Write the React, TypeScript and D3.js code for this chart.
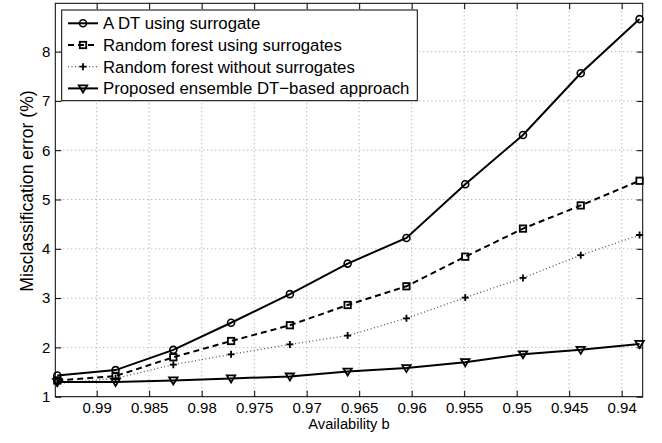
import React, { useEffect, useRef } from 'react';
import * as d3 from 'd3';

// availability values (x)
const availability = [0.99375, 0.9882, 0.9827, 0.9772, 0.9716, 0.9661, 0.9605, 0.9549, 0.9494, 0.9439, 0.9383];

const dtSurrogate = [1.43, 1.54, 1.95, 2.5, 3.08, 3.7, 4.22, 5.31, 6.31, 7.56, 8.66];
const rfSurrogates = [1.33, 1.42, 1.8, 2.13, 2.45, 2.86, 3.24, 3.84, 4.41, 4.88, 5.38];
const rfNoSurrogates = [1.27, 1.37, 1.65, 1.86, 2.06, 2.24, 2.59, 3.01, 3.41, 3.87, 4.28];
const ensembleDT = [1.3, 1.3, 1.33, 1.37, 1.41, 1.51, 1.58, 1.7, 1.86, 1.95, 2.07];

const seriesNames = [
  'A DT using surrogate',
  'Random forest using surrogates',
  'Random forest without surrogates',
  'Proposed ensemble DT\u2212based approach',
];

const xTicks = [0.99, 0.985, 0.98, 0.975, 0.97, 0.965, 0.96, 0.955, 0.95, 0.945, 0.94];
const yTicks = [1, 2, 3, 4, 5, 6, 7, 8];

const FONT = 'Liberation Sans, Arial, Helvetica, sans-serif';

const App = () => {
  const svgRef = useRef(null);

  useEffect(() => {
    const width = 662, height = 443;
    const margin = { top: 3.3, right: 19.3, bottom: 46.3, left: 55.3 };
    const w = width - margin.left - margin.right;
    const h = height - margin.top - margin.bottom;

    const svg = d3.select(svgRef.current);
    svg.selectAll('*').remove();

    const g = svg.append('g').attr('transform', `translate(${margin.left},${margin.top})`);

    const x = d3.scaleLinear().domain([0.99394, 0.938]).range([0, w]);
    const y = d3.scaleLinear().domain([1, 8.98]).range([h, 0]);

    // grid
    g.selectAll('.gx').data(xTicks).enter().append('line')
      .attr('x1', d => x(d)).attr('x2', d => x(d))
      .attr('y1', 0).attr('y2', h)
      .attr('stroke', '#888').attr('stroke-width', 0.8).attr('stroke-dasharray', '1,3');
    g.selectAll('.gy').data(yTicks).enter().append('line')
      .attr('x1', 0).attr('x2', w)
      .attr('y1', d => y(d)).attr('y2', d => y(d))
      .attr('stroke', '#888').attr('stroke-width', 0.8).attr('stroke-dasharray', '1,3');

    // axes
    const xAxis = g.append('g').attr('transform', `translate(0,${h})`)
      .call(d3.axisBottom(x).tickValues(xTicks).tickSize(-6).tickPadding(6).tickFormat(d3.format('')));
    const xTop = g.append('g').call(d3.axisTop(x).tickValues(xTicks).tickSize(-6).tickFormat(() => ''));
    const yAxis = g.append('g')
      .call(d3.axisLeft(y).tickValues(yTicks).tickSize(-6).tickPadding(5).tickFormat(d3.format('d')));
    const yRight = g.append('g').attr('transform', `translate(${w},0)`)
      .call(d3.axisRight(y).tickValues(yTicks).tickSize(-6).tickFormat(() => ''));

    [xAxis, xTop, yAxis, yRight].forEach(a => {
      a.select('.domain').remove();
      a.selectAll('.tick line').attr('stroke', '#000').attr('stroke-width', 1);
      a.selectAll('text')
        .style('font-family', FONT)
        .style('font-size', '15px')
        .style('fill', '#000');
    });

    g.append('rect').attr('x', 0).attr('y', 0).attr('width', w).attr('height', h)
      .attr('fill', 'none').attr('stroke', '#000').attr('stroke-width', 1);

    // labels
    svg.append('text')
      .attr('x', margin.left + w / 2).attr('y', 429)
      .attr('text-anchor', 'middle')
      .style('font-family', FONT).style('font-size', '14.7px')
      .text('Availability b');
    svg.append('text')
      .attr('transform', 'translate(33,191) rotate(-90)')
      .attr('text-anchor', 'middle')
      .style('font-family', FONT).style('font-size', '17.6px')
      .text('Misclassification error (%)');

    const styles = [
      { values: dtSurrogate, dash: null, color: '#000', width: 2, marker: 'circle' },
      { values: rfSurrogates, dash: '6,4', color: '#000', width: 2, marker: 'square' },
      { values: rfNoSurrogates, dash: '1,2.5', color: '#555', width: 1.3, marker: 'plus' },
      { values: ensembleDT, dash: null, color: '#000', width: 2, marker: 'triangle' },
    ];

    const drawMarker = (sel, type, cx, cy) => {
      if (type === 'circle') {
        sel.append('circle').attr('cx', cx).attr('cy', cy).attr('r', 3.5)
          .attr('fill', 'none').attr('stroke', '#000').attr('stroke-width', 1.6);
      } else if (type === 'square') {
        sel.append('rect').attr('x', cx - 3.2).attr('y', cy - 3.2).attr('width', 6.4).attr('height', 6.4)
          .attr('fill', 'none').attr('stroke', '#000').attr('stroke-width', 1.8);
      } else if (type === 'plus') {
        sel.append('path').attr('d', `M${cx - 3.5},${cy}H${cx + 3.5}M${cx},${cy - 3.5}V${cy + 3.5}`)
          .attr('stroke', '#000').attr('stroke-width', 1.8);
      } else {
        sel.append('path').attr('d', `M${cx - 4.2},${cy - 3}L${cx + 4.2},${cy - 3}L${cx},${cy + 4}Z`)
          .attr('fill', 'none').attr('stroke', '#000').attr('stroke-width', 1.8).attr('stroke-linejoin', 'miter');
      }
    };

    const line = d3.line().x(d => x(d[0])).y(d => y(d[1]));

    styles.forEach(s => {
      const pts = availability.map((a, i) => [a, s.values[i]]);
      g.append('path').datum(pts)
        .attr('fill', 'none').attr('stroke', s.color).attr('stroke-width', s.width)
        .attr('stroke-dasharray', s.dash)
        .attr('d', line);
      const mg = g.append('g');
      pts.forEach(p => drawMarker(mg, s.marker, x(p[0]), y(p[1])));
    });

    // legend
    const lg = svg.append('g');
    lg.append('rect').attr('x', 61.7).attr('y', 10).attr('width', 355.6).attr('height', 90.7)
      .attr('fill', '#fff').attr('stroke', '#000').attr('stroke-width', 1);
    styles.forEach((s, i) => {
      const ly = 23.3 + i * 21.7;
      lg.append('line').attr('x1', 68).attr('x2', 98).attr('y1', ly).attr('y2', ly)
        .attr('stroke', s.color).attr('stroke-width', s.width).attr('stroke-dasharray', s.dash);
      drawMarker(lg, s.marker, 83, ly);
      lg.append('text').attr('x', 103).attr('y', ly).attr('dy', '0.36em')
        .style('font-family', FONT).style('font-size', '16.8px')
        .text(seriesNames[i]);
    });
  }, []);

  return (
    <div style={{ position: 'absolute', left: 0, top: 0 }}>
      <svg ref={svgRef} width={662} height={443} style={{ display: 'block', background: '#fff' }}></svg>
    </div>
  );
};

export default App;
